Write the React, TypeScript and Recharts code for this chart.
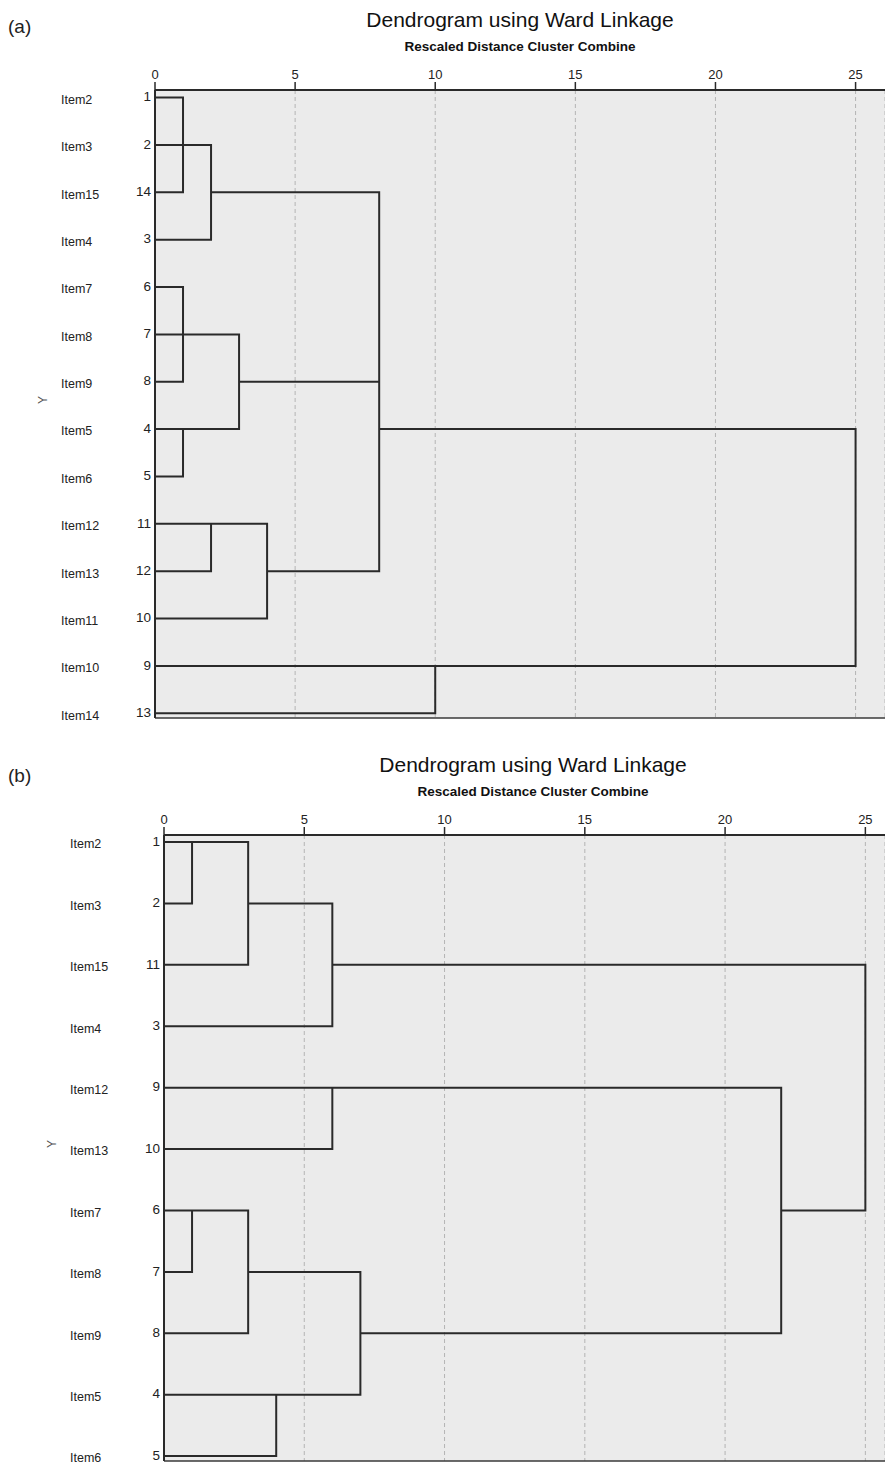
import React from 'react'
import { ComposedChart, Scatter, XAxis, YAxis, CartesianGrid, ReferenceLine, Label } from 'recharts'

const distanceTicks = [0, 5, 10, 15, 20, 25]

// panel (a): items top to bottom, with their case numbers
const itemsA = ['Item2', 'Item3', 'Item15', 'Item4', 'Item7', 'Item8', 'Item9', 'Item5', 'Item6', 'Item12', 'Item13', 'Item11', 'Item10', 'Item14']
const caseNumsA = ['1', '2', '14', '3', '6', '7', '8', '4', '5', '11', '12', '10', '9', '13']
// each link is a step path of [distance, row] corners
const linksA: [number, number][][] = [
  [[0, 0], [1, 0], [1, 2], [0, 2]],
  [[0, 1], [2, 1], [2, 3], [0, 3]],
  [[0, 4], [1, 4], [1, 6], [0, 6]],
  [[0, 5], [3, 5], [3, 7], [0, 7]],
  [[1, 7], [1, 8], [0, 8]],
  [[0, 9], [4, 9], [4, 11], [0, 11]],
  [[2, 9], [2, 10], [0, 10]],
  [[2, 2], [8, 2], [8, 10], [4, 10]],
  [[3, 6], [8, 6]],
  [[0, 12], [25, 12], [25, 7], [8, 7]],
  [[0, 13], [10, 13], [10, 12]],
]

// panel (b)
const itemsB = ['Item2', 'Item3', 'Item15', 'Item4', 'Item12', 'Item13', 'Item7', 'Item8', 'Item9', 'Item5', 'Item6']
const caseNumsB = ['1', '2', '11', '3', '9', '10', '6', '7', '8', '4', '5']
const linksB: [number, number][][] = [
  [[0, 0], [3, 0], [3, 2], [0, 2]],
  [[0, 1], [1, 1], [1, 0]],
  [[3, 1], [6, 1], [6, 3], [0, 3]],
  [[0, 4], [22, 4], [22, 8], [7, 8]],
  [[0, 5], [6, 5], [6, 4]],
  [[0, 6], [3, 6], [3, 8], [0, 8]],
  [[0, 7], [1, 7], [1, 6]],
  [[3, 7], [7, 7], [7, 9], [0, 9]],
  [[0, 10], [4, 10], [4, 9]],
  [[6, 2], [25, 2], [25, 6], [22, 6]],
]

const INK = '#2a2a2a'
const noDot = () => <g />

interface PanelProps {
  tag: string
  tagTop: number
  items: string[]
  nums: string[]
  links: [number, number][][]
  top: number
  height: number
  plotLeft: number
  xMax: number
  yDomain: [number, number]
  itemX: number
  yTitleOffset: number
  titleCenter: number
}

function Dendrogram(p: PanelProps) {
  const rows = p.items.map((_, i) => i)

  const rowTick = (props: any) => {
    const { y, payload } = props
    const i = payload.value
    return (
      <g>
        <text x={p.itemX} y={y + 2} dy="0.35em" textAnchor="start" fontSize={12.5} fill="#222">
          {p.items[i]}
        </text>
        <text x={p.plotLeft - 4} y={y - 1} dy="0.35em" textAnchor="end" fontSize={13.5} fill="#222">
          {p.nums[i]}
        </text>
      </g>
    )
  }

  return (
    <>
      <div style={{ position: 'absolute', left: 8, top: p.tagTop, fontSize: 19, lineHeight: '22px', color: '#222' }}>
        {p.tag}
      </div>
      <div
        style={{
          position: 'absolute',
          left: p.titleCenter - 250,
          width: 500,
          top: p.top + 8,
          textAlign: 'center',
          fontSize: 21,
          lineHeight: '24px',
          color: '#111',
        }}
      >
        Dendrogram using Ward Linkage
      </div>
      <div
        style={{
          position: 'absolute',
          left: p.titleCenter - 250,
          width: 500,
          top: p.top + 39,
          textAlign: 'center',
          fontSize: 13.5,
          fontWeight: 'bold',
          lineHeight: '16px',
          color: '#111',
        }}
      >
        Rescaled Distance Cluster Combine
      </div>
      <div style={{ position: 'absolute', left: 0, top: p.top }}>
        <ComposedChart width={885} height={p.height} margin={{ top: 60, right: 0, bottom: 14, left: 0 }}>
          <CartesianGrid horizontal={false} stroke="#b4b4b4" strokeDasharray="4 3" fill="#ebebeb" fillOpacity={1} />
          <XAxis
            orientation="top"
            type="number"
            dataKey="x"
            domain={[0, p.xMax]}
            allowDataOverflow
            ticks={distanceTicks}
            interval={0}
            height={30}
            tickSize={8}
            tickMargin={3}
            tick={{ fontSize: 13, fill: '#222' }}
            tickLine={{ stroke: INK, strokeWidth: 1.5 }}
            axisLine={{ stroke: INK, strokeWidth: 2 }}
          />
          <YAxis
            type="number"
            dataKey="y"
            domain={p.yDomain}
            allowDataOverflow
            reversed
            ticks={rows}
            interval={0}
            width={p.plotLeft}
            tickLine={false}
            tick={rowTick}
            axisLine={{ stroke: INK, strokeWidth: 2 }}
          >
            <Label value="Y" angle={-90} position="insideLeft" offset={p.yTitleOffset} fontSize={12} fill="#555" />
          </YAxis>
          <ReferenceLine y={p.yDomain[1]} stroke="#3a3a3a" strokeWidth={1.5} />
          {p.links.map((link, k) => (
            <Scatter
              key={k}
              data={link.map(([d, r]) => ({ x: d, y: r }))}
              line={{ stroke: INK, strokeWidth: 2 }}
              lineType="joint"
              shape={noDot}
              legendType="none"
              isAnimationActive={false}
            />
          ))}
        </ComposedChart>
      </div>
    </>
  )
}

export default function App() {
  return (
    <div
      style={{
        position: 'absolute',
        left: 0,
        top: 0,
        width: 885,
        height: 1463,
        background: '#fff',
        fontFamily: '"Liberation Sans", Arial, sans-serif',
        overflow: 'hidden',
      }}
    >
      <Dendrogram
        tag="(a)"
        tagTop={16}
        items={itemsA}
        nums={caseNumsA}
        links={linksA}
        top={0}
        height={732}
        plotLeft={155}
        xMax={26.05}
        yDomain={[-0.16, 13.1]}
        itemX={61}
        yTitleOffset={43}
        titleCenter={520}
      />
      <Dendrogram
        tag="(b)"
        tagTop={765}
        items={itemsB}
        nums={caseNumsB}
        links={linksB}
        top={745}
        height={730}
        plotLeft={164}
        xMax={25.7}
        yDomain={[-0.115, 10.08]}
        itemX={70}
        yTitleOffset={52}
        titleCenter={533}
      />
    </div>
  )
}
